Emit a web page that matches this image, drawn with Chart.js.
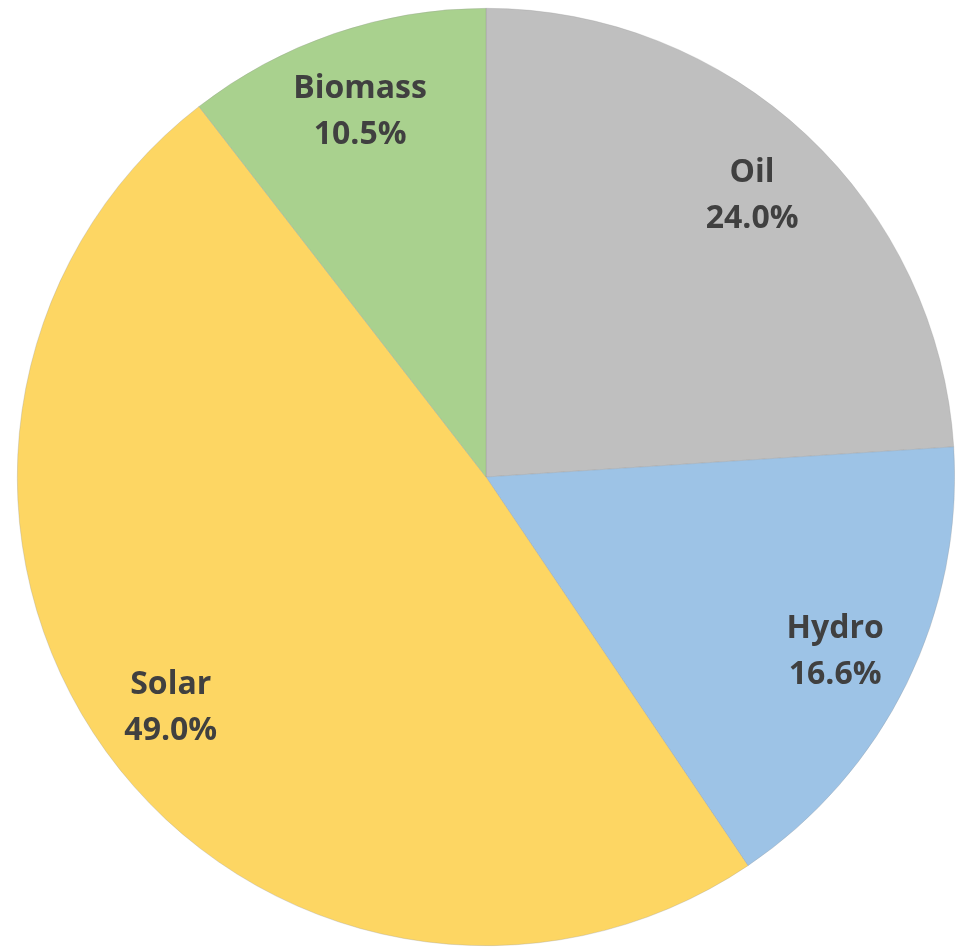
<!DOCTYPE html>
<html>
<head>
<meta charset="utf-8">
<script src="https://cdn.jsdelivr.net/npm/chart.js@4"></script>
<style>
  html, body { margin: 0; padding: 0; background: #fff; overflow: hidden; }
  #wrap { width: 955px; height: 951px; }
</style>
</head>
<body>
<div id="wrap"><canvas id="chartPie"></canvas></div>
<script>
const labels = ['Oil', 'Hydro', 'Solar', 'Biomass'];
const shares = [24.0, 16.6, 49.0, 10.5];
const colors = ['#BFBFBF', '#9DC3E6', '#FDD663', '#A9D18E'];

// draws "Name\nxx.x%" inside each slice
const sliceLabels = {
  id: 'sliceLabels',
  afterDatasetsDraw(chart) {
    const ctx = chart.ctx;
    const meta = chart.getDatasetMeta(0);
    ctx.save();
    ctx.fillStyle = '#404040';
    ctx.font = 'bold 32px "Open Sans", "DejaVu Sans", sans-serif';
    ctx.textAlign = 'center';
    ctx.textBaseline = 'middle';
    meta.data.forEach((arc, i) => {
      const { x, y, startAngle, endAngle, outerRadius } = arc.getProps(['x', 'y', 'startAngle', 'endAngle', 'outerRadius'], true);
      const mid = (startAngle + endAngle) / 2;
      const r = outerRadius * 0.83;
      const cx = x + Math.cos(mid) * r;
      const cy = y + Math.sin(mid) * r + 3;
      ctx.fillText(labels[i], cx, cy - 23);
      ctx.fillText(shares[i].toFixed(1) + '%', cx, cy + 23);
    });
    ctx.restore();
  }
};

new Chart(document.getElementById('chartPie'), {
  type: 'pie',
  data: {
    labels,
    datasets: [{ data: shares, backgroundColor: colors, borderWidth: 0.6, borderColor: 'rgba(150,150,150,0.5)' }],
  },
  options: {
    responsive: true, maintainAspectRatio: false, animation: false,
    layout: { padding: { left: 17, right: 0, top: 8, bottom: 5 } },
    plugins: { legend: { display: false }, tooltip: { enabled: false } },
  },
  plugins: [sliceLabels],
});
</script>
</body>
</html>
